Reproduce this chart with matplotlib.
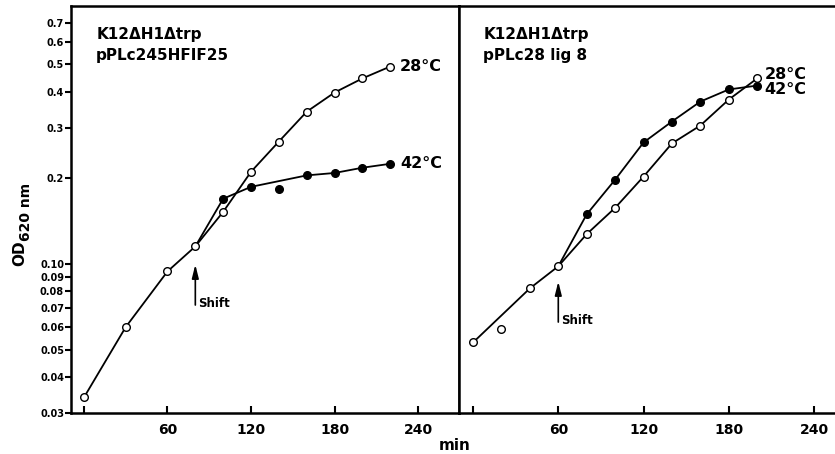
import matplotlib
matplotlib.use("Agg")
import matplotlib.pyplot as plt
import numpy as np

plt.rcParams['font.family'] = ['DejaVu Sans']
plt.rcParams['font.weight'] = 'bold'

# left panel: K12dH1dtrp pPLc245HFIF25
t_l28 = [0, 30, 60, 80, 100, 120, 140, 160, 180, 200, 220]
od_l28 = [0.034, 0.060, 0.094, 0.115, 0.152, 0.210, 0.268, 0.341, 0.398, 0.446, 0.491]
t_l42 = [80, 100, 120, 140, 160, 180, 200, 220]
od_l42 = [0.115, 0.169, 0.186, 0.183, 0.204, 0.208, 0.217, 0.224]
line_l42 = [True, True, True, False, True, True, True, True]

# right panel: K12dH1dtrp pPLc28 lig 8
t_r28 = [0, 20, 40, 60, 80, 100, 120, 140, 160, 180, 200]
od_r28 = [0.053, 0.059, 0.082, 0.098, 0.127, 0.157, 0.202, 0.264, 0.305, 0.376, 0.446]
line_r28 = [True, False, True, True, True, True, True, True, True, True, True]
t_r42 = [60, 80, 100, 120, 140, 160, 180, 200]
od_r42 = [0.098, 0.149, 0.197, 0.266, 0.315, 0.370, 0.408, 0.421]

yticks = [0.03, 0.04, 0.05, 0.06, 0.07, 0.08, 0.09, 0.10, 0.2, 0.3, 0.4, 0.5, 0.6, 0.7]
ylabels = ['0.03', '0.04', '0.05', '0.06', '0.07', '0.08', '0.09', '0.10',
           '0.2', '0.3', '0.4', '0.5', '0.6', '0.7']
xticks = [0, 60, 120, 180, 240]
xlabels = ['', '60', '120', '180', '240']

fig = plt.figure(figsize=(8.35, 4.54), dpi=100)
axl = fig.add_axes([71/835, 41/454, 388/835, 407/454])
axr = fig.add_axes([459/835, 41/454, 377/835, 407/454])

lw = 1.3
ms = 5.5

def draw(ax, t, od, filled, mask=None, skip_first=False):
    t = np.array(t)
    od = np.array(od)
    if mask is None:
        mask = np.ones(len(t), bool)
    mask = np.array(mask)
    ax.plot(t[mask], od[mask], '-', color='black', lw=lw, zorder=2)
    start = 1 if skip_first else 0
    ax.plot(t[start:], od[start:], 'o', ms=ms, mec='black', mew=1.0,
            mfc='black' if filled else 'white', zorder=3)

draw(axl, t_l28, od_l28, False)
draw(axl, t_l42, od_l42, True, line_l42, skip_first=True)
draw(axr, t_r42, od_r42, True, skip_first=True)
draw(axr, t_r28, od_r28, False, line_r28)

for ax, xl in ((axl, (-9.3, 269.4)), (axr, (-9.9, 255.5))):
    ax.set_yscale('log')
    ax.set_ylim(0.03, 0.80)
    ax.set_xlim(*xl)
    ax.set_xticks(xticks)
    ax.set_xticklabels(xlabels, fontsize=10, fontweight='bold')
    ax.tick_params(axis='x', direction='in', length=5, width=1.5, pad=7)
    ax.minorticks_off()
    for s in ax.spines.values():
        s.set_linewidth(1.8)

axl.set_yticks(yticks)
axl.set_yticklabels(ylabels, fontsize=7, fontweight='bold')
axl.tick_params(axis='y', direction='out', length=4, width=1.5, pad=1)
axr.set_yticks([])
axr.spines['right'].set_visible(False)
axl.yaxis.set_minor_locator(matplotlib.ticker.NullLocator())
axr.yaxis.set_minor_locator(matplotlib.ticker.NullLocator())

# panel titles
axl.text(0.065, 0.948, 'K12\u0394H1\u0394trp\npPLc245HFIF25', transform=axl.transAxes,
         ha='left', va='top', fontsize=11, fontweight='bold', linespacing=1.45)
axr.text(0.064, 0.948, 'K12\u0394H1\u0394trp\npPLc28 lig 8', transform=axr.transAxes,
         ha='left', va='top', fontsize=11, fontweight='bold', linespacing=1.45)

# curve labels
axl.text(227, 0.491, '28\u00b0C', ha='left', va='center', fontsize=11.5, fontweight='bold')
axl.text(227, 0.224, '42\u00b0C', ha='left', va='center', fontsize=11.5, fontweight='bold')
axr.text(205, 0.460, '28\u00b0C', ha='left', va='center', fontsize=11.5, fontweight='bold')
axr.text(205, 0.408, '42\u00b0C', ha='left', va='center', fontsize=11.5, fontweight='bold')

# shift arrows
arrow = dict(arrowstyle='-|>,head_length=0.8,head_width=0.2', color='black', lw=1.2)
axl.annotate('', xy=(80, 0.1016), xytext=(80, 0.0701), arrowprops=arrow)
axl.text(82, 0.0728, 'Shift', ha='left', va='center', fontsize=8.5, fontweight='bold')
axr.annotate('', xy=(60, 0.0886), xytext=(60, 0.0611), arrowprops=arrow)
axr.text(62, 0.0634, 'Shift', ha='left', va='center', fontsize=8.5, fontweight='bold')

fig.text(20/835, 1 - 253/454, 'OD', rotation=90, ha='center', va='center',
         fontsize=11, fontweight='bold')
fig.text(26/835, 1 - 212/454, '620 nm', rotation=90, ha='center', va='center',
         fontsize=10, fontweight='bold')
fig.text(455/835, 1 - 445/454, 'min', ha='center', va='center', fontsize=11,
         fontweight='bold')

fig.savefig('out.png', dpi=100)
